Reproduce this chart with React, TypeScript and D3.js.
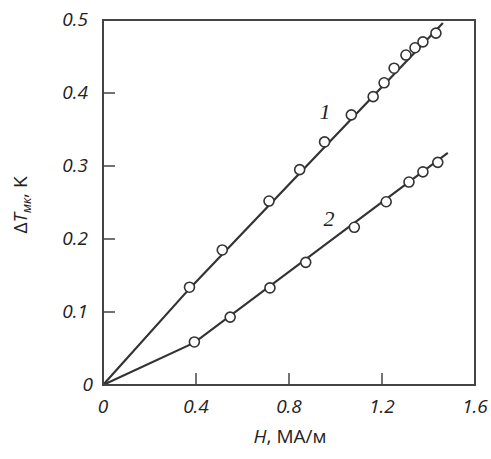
import React from 'react'
import * as d3 from 'd3'

// measured points, curve 1 and curve 2
const h1 = [0.372, 0.513, 0.714, 0.846, 0.953, 1.068, 1.162, 1.209, 1.252, 1.303, 1.342, 1.376, 1.432];
const t1 = [0.134, 0.185, 0.252, 0.295, 0.333, 0.370, 0.395, 0.414, 0.434, 0.452, 0.462, 0.470, 0.482];
const h2 = [0.393, 0.547, 0.718, 0.872, 1.081, 1.218, 1.316, 1.376, 1.440];
const t2 = [0.059, 0.093, 0.133, 0.168, 0.216, 0.251, 0.278, 0.292, 0.305];

// fitted lines
const fit1H = [0, 0.372, 1.462];
const fit1T = [0, 0.132, 0.496];
const fit2H = [0, 0.393, 1.483];
const fit2T = [0, 0.058, 0.318];

const xTicks = [0, 0.4, 0.8, 1.2, 1.6];
const yTicks = [0, 0.1, 0.2, 0.3, 0.4, 0.5];

const box = {left: 103, right: 475, top: 20, bottom: 385};

export default function App() {
  const x = d3.scaleLinear().domain([0, 1.6]).range([box.left, box.right]);
  const y = d3.scaleLinear().domain([0, 0.5]).range([box.bottom, box.top]);
  const line = d3.line<[number, number]>().x(d => x(d[0])).y(d => y(d[1]));

  const fit1 = fit1H.map((v, i) => [v, fit1T[i]] as [number, number]);
  const fit2 = fit2H.map((v, i) => [v, fit2T[i]] as [number, number]);
  const pts = [
    ...h1.map((v, i) => [v, t1[i]]),
    ...h2.map((v, i) => [v, t2[i]])
  ];
  const stroke = '#333';
  const txt = '#222';
  const tickFont = 'Open Sans, sans-serif';

  return (
    <svg width={491} height={459} style={{position: 'absolute', left: 0, top: 0, background: '#fff'}}>
      <path d={line(fit1) || ''} fill="none" stroke={stroke} strokeWidth={2.2} />
      <path d={line(fit2) || ''} fill="none" stroke={stroke} strokeWidth={2.2} />
      {pts.map((p, i) => (
        <circle key={i} cx={x(p[0])} cy={y(p[1])} r={5} fill="#fff" stroke={stroke} strokeWidth={1.6} />
      ))}
      <rect x={box.left} y={box.top} width={box.right - box.left} height={box.bottom - box.top}
        fill="none" stroke="#444" strokeWidth={2} />
      {xTicks.slice(1, -1).map(t => (
        <line key={'xt' + t} x1={x(t)} x2={x(t)} y1={box.bottom} y2={box.bottom - 12} stroke="#444" strokeWidth={1.5} />
      ))}
      {yTicks.slice(1, -1).map(t => (
        <line key={'yt' + t} x1={box.left} x2={box.left + 12} y1={y(t)} y2={y(t)} stroke="#444" strokeWidth={1.5} />
      ))}
      {xTicks.map(t => (
        <text key={'xl' + t} x={x(t)} y={413} textAnchor="middle" fontFamily={tickFont}
          fontStyle="italic" fontSize={19} fill={txt}>{t === 0 ? '0' : t.toFixed(1)}</text>
      ))}
      {yTicks.map(t => (
        <text key={'yl' + t} x={t === 0 ? 93 : 88} y={y(t) + 6} textAnchor="end" fontFamily={tickFont}
          fontStyle="italic" fontSize={19} fill={txt}>{t === 0 ? '0' : t.toFixed(1)}</text>
      ))}
      <text x={290} y={443} textAnchor="middle" fontFamily={tickFont} fontSize={19} fill={txt}>
        <tspan fontStyle="italic">H</tspan>, МА/м
      </text>
      <text transform="translate(27,205) rotate(-90)" textAnchor="middle" fontFamily={tickFont} fontSize={19} fill={txt}>
        <tspan>Δ</tspan><tspan fontStyle="italic">T</tspan><tspan fontStyle="italic" fontSize={13} dy={4}>мк</tspan><tspan dy={-4}>, K</tspan>
      </text>
      <text x={325} y={119} textAnchor="middle" fontFamily="Liberation Serif, serif" fontStyle="italic" fontSize={22} fill={txt}>1</text>
      <text x={329} y={226} textAnchor="middle" fontFamily="Liberation Serif, serif" fontStyle="italic" fontSize={22} fill={txt}>2</text>
    </svg>
  )
}
